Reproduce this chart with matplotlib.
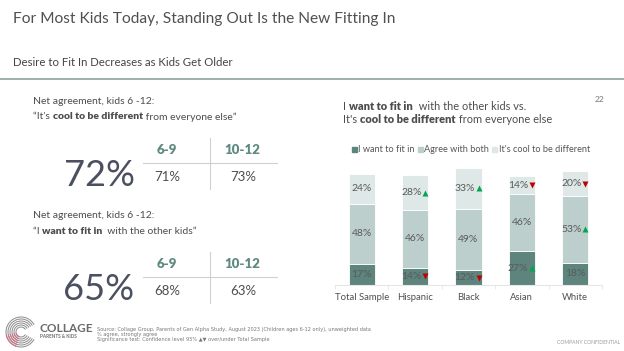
import numpy as np
import matplotlib
matplotlib.use("Agg")
import matplotlib.pyplot as plt
from matplotlib.patches import Arc

plt.rcParams['font.family'] = ['Lato', 'DejaVu Sans']

W, H = 624, 351

# data
groups = ["Total Sample", "Hispanic", "Black", "Asian", "White"]
fit_in = [17, 14, 12, 27, 18]
agree_both = [48, 46, 49, 46, 53]
cool_diff = [24, 28, 33, 14, 20]
# significance vs total sample: 1 = over, -1 = under, 0 = none
sig_fit = [0, -1, -1, 1, 0]
sig_both = [0, 0, 0, 0, 1]
sig_cool = [0, 1, 1, -1, -1]
series_names = ["I want to fit in", "Agree with both", "It's cool to be different"]

cool_total, cool_ages = "72%", ["71%", "73%"]
fit_total, fit_ages = "65%", ["68%", "63%"]
age_groups = ["6-9", "10-12"]

c_dark = "#5e847e"
c_mid = "#bdcfcc"
c_light = "#dee8e6"
teal = "#5f8a80"
txt = "#4d4d4d"
up_col = "#00a651"
down_col = "#c00000"

fig = plt.figure(figsize=(W / 100, H / 100), dpi=100)


def fx(x):
    return x / W


def fy(y):
    return 1 - y / H


def t(x, y, s, **kw):
    fig.text(fx(x), fy(y), s, va=kw.pop('va', 'center'), **kw)


# header
t(13, 19, "For Most Kids Today, Standing Out Is the New Fitting In", fontsize=11.2,
  color="#505050")
t(13, 62, "Desire to Fit In Decreases as Kids Get Older", fontsize=8.2, color="#454545")
fig.add_artist(plt.Line2D([0, 1], [fy(78.5), fy(78.5)], color="#8fa39c", lw=1.2))


def rich(x, y, parts, size=7.5):
    # draw text pieces side by side, some bold
    r = fig.canvas.get_renderer()
    cx = x
    for s, bold in parts:
        tt = fig.text(fx(cx), fy(y), s, fontsize=size, color=txt, va='center',
                      fontweight='heavy' if bold else 'normal')
        bb = tt.get_window_extent(renderer=r)
        cx += bb.width


def stat_block(y0, quote, total, ages):
    t(33, y0, "Net agreement, kids 6 -12:", fontsize=7.5, color=txt)
    rich(33, y0 + 16, quote)
    t(99, y0 + 75, total, fontsize=26, color="#4a5060", ha='center')
    t(167, y0 + 49, age_groups[0], fontsize=9.5, color=teal, ha='center', fontweight='heavy')
    t(242, y0 + 49, age_groups[1], fontsize=9.5, color=teal, ha='center', fontweight='heavy')
    t(167, y0 + 76, ages[0], fontsize=9.5, color=txt, ha='center')
    t(243, y0 + 76, ages[1], fontsize=9.5, color=txt, ha='center')
    fig.add_artist(plt.Line2D([fx(143), fx(277)], [fy(y0 + 62), fy(y0 + 62)],
                              color="#d0d0d0", lw=0.8))
    fig.add_artist(plt.Line2D([fx(210), fx(210)], [fy(y0 + 37), fy(y0 + 88)],
                              color="#d0d0d0", lw=0.8))


stat_block(101, [("\u201cIt's ", False), ("cool to be different", True),
                 (" from everyone else\u201d", False)], cool_total, cool_ages)
stat_block(215, [("\u201cI ", False), ("want to fit in", True),
                 ("  with the other kids\u201d", False)], fit_total, fit_ages)

# right chart heading
rich(343, 106, [("I ", False), ("want to fit in", True), ("  with the other kids vs.", False)], size=7.9)
rich(343, 119, [("It's ", False), ("cool to be different", True),
                (" from everyone else", False)], size=7.9)
t(600, 100, "22", fontsize=6, color="#777777", ha='center')

# legend
lx = 352
r = fig.canvas.get_renderer()
for name, col in zip(series_names, [c_dark, c_mid, c_light]):
    fig.add_artist(plt.Rectangle((fx(lx), fy(152)), 5 / W, 5 / H, color=col,
                                 transform=fig.transFigure))
    tt = fig.text(fx(lx + 6.5), fy(149), name, fontsize=6.6, color="#555555", va='center')
    lx += 6.5 + tt.get_window_extent(renderer=r).width + 3

# stacked bars
ax = fig.add_axes([fx(335), fy(285), (602 - 335) / W, 120 / H])
x = np.arange(len(groups))
bw = 0.49
bottoms = np.zeros(len(groups))
for vals, sigs, col in [(fit_in, sig_fit, c_dark), (agree_both, sig_both, c_mid),
                        (cool_diff, sig_cool, c_light)]:
    ax.bar(x, vals, bw, bottom=bottoms, color=col, edgecolor='white', linewidth=0.6)
    for i, (v, s) in enumerate(zip(vals, sigs)):
        yc = bottoms[i] + v / 2
        if s == 0:
            ax.text(x[i], yc, f"{v}%", ha='center', va='center', fontsize=7.5, color="#5a5a5a")
        else:
            ax.text(x[i] + 0.12, yc, f"{v}%", ha='right', va='center', fontsize=7.5,
                    color="#5a5a5a")
            ax.plot(x[i] + 0.19, yc, marker='^' if s > 0 else 'v', ms=5,
                    color=up_col if s > 0 else down_col, mec='none')
    bottoms += np.array(vals)

ax.set_xlim(-0.5, 4.5)
ax.set_ylim(0, 96)
ax.set_yticks([])
ax.set_xticks(x)
ax.set_xticklabels(groups, fontsize=6.8, color="#505050")
ax.set_xticks(np.arange(-0.5, 5, 1), minor=True)
ax.tick_params(axis='x', which='major', length=0, pad=6)
ax.tick_params(axis='x', which='minor', length=3, color="#e6e6e6")
for sp in ['top', 'right', 'left']:
    ax.spines[sp].set_visible(False)
ax.spines['bottom'].set_color("#e6e6e6")

# logo
cx, cy = 21, 332
for i, rad in enumerate(np.arange(5, 17, 2)):
    fig.add_artist(Arc((fx(cx), fy(cy)), 2 * rad / W, 2 * rad / H, theta1=45, theta2=315,
                       transform=fig.transFigure, color="#8a8a8a", lw=0.7))
    fig.add_artist(Arc((fx(cx), fy(cy)), 2 * rad / W, 2 * rad / H, theta1=200, theta2=260,
                       transform=fig.transFigure, color="#c77a8a", lw=0.9))
t(40, 328, "COLLAGE", fontsize=8.5, color="#6b6b6b", fontweight='bold')
t(40, 337, "PARENTS & KIDS", fontsize=3.3, color="#6b6b6b", fontweight='bold')

# footer
foot = ["Source: Collage Group, Parents of Gen Alpha Study, August 2023 (Children ages 6-12 only), unweighted data",
        "% agree, strongly agree",
        "Significance test: Confidence level 95% \u25b2\u25bc over/under Total Sample"]
for k, s in enumerate(foot):
    t(97, 329 + k * 5.3, s, fontsize=3.6, color="#777777", family=['DejaVu Sans'])
t(620, 342, "COMPANY CONFIDENTIAL", fontsize=3.6, color="#999999", ha='right')

fig.savefig("out.png", dpi=100)
